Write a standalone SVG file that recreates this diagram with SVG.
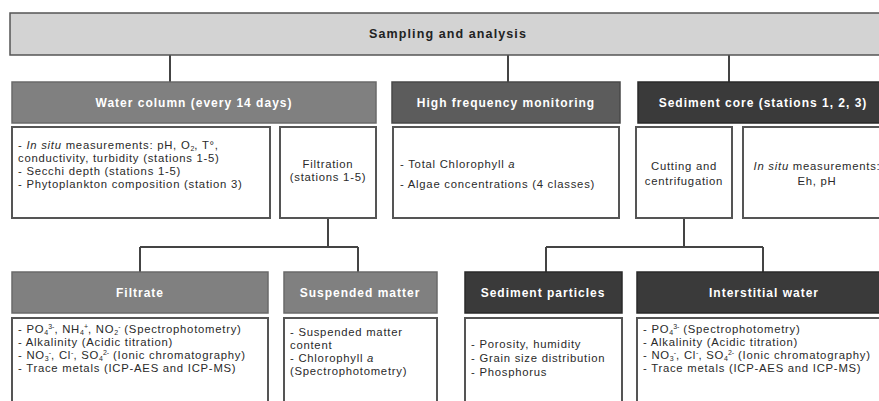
<svg xmlns="http://www.w3.org/2000/svg" width="879" height="401" viewBox="0 0 879 401">
<style>
.top{fill:#d3d3d3;stroke:#555;stroke-width:1.5}
.hd1{fill:#808080;stroke:#6a6a6a;stroke-width:1.5}
.hd2{fill:#5c5c5c;stroke:#484848;stroke-width:1.5}
.hd3{fill:#3a3a3a;stroke:#2a2a2a;stroke-width:1.5}
.box{fill:#fff;stroke:#555;stroke-width:2}
.ht{font-family:"Liberation Sans",Arial,sans-serif;font-weight:bold;font-size:12px;letter-spacing:1px;fill:#fff;text-anchor:middle}
.tt{font-family:"Liberation Sans",Arial,sans-serif;font-weight:bold;font-size:12.5px;letter-spacing:1.1px;fill:#222;text-anchor:middle}
.ct{font-family:"Liberation Sans",Arial,sans-serif;font-size:11.3px;letter-spacing:0.75px;fill:#2a2a2a}
.cm{text-anchor:middle}
.s{font-size:7px;letter-spacing:0}
.con{stroke:#444;stroke-width:2;fill:none}
</style>
<g id="connectors">
<path class="con" d="M170 55V82M508 55V82M729 55V82"/>
<path class="con" d="M328 218V247M140 247H358M140 247V272M358 247V272"/>
<path class="con" d="M684 218V247M546 247H763M546 247V272M763 247V272"/>
</g>
<g id="sampling">
<rect class="top" x="10" y="13" width="880" height="42"/>
<text class="tt" x="448" y="38">Sampling and analysis</text>
</g>
<g id="water-column">
<rect class="hd1" x="12" y="82" width="364" height="41"/>
<text class="ht" x="194" y="107">Water column (every 14 days)</text>
</g>
<g id="high-frequency">
<rect class="hd2" x="392" y="82" width="228" height="41"/>
<text class="ht" x="506" y="107">High frequency monitoring</text>
</g>
<g id="sediment-core">
<rect class="hd3" x="638" y="82" width="250" height="41"/>
<text class="ht" x="763" y="107">Sediment core (stations 1, 2, 3)</text>
</g>
<g id="in-situ-water">
<rect class="box" x="12" y="127" width="258" height="91"/>
<text class="ct" x="18" y="149">- <tspan font-style="italic">In situ</tspan> measurements: pH, O<tspan class="s" dy="2">2</tspan><tspan dy="-2">, T°,</tspan></text>
<text class="ct" x="18" y="162">conductivity, turbidity (stations 1-5)</text>
<text class="ct" x="18" y="175">- Secchi depth (stations 1-5)</text>
<text class="ct" x="18" y="188">- Phytoplankton composition (station 3)</text>
</g>
<g id="filtration">
<rect class="box" x="280" y="127" width="96" height="91"/>
<text class="ct cm" x="328" y="168">Filtration</text>
<text class="ct cm" x="328" y="181">(stations 1-5)</text>
</g>
<g id="hf-content">
<rect class="box" x="393" y="127" width="226" height="91"/>
<text class="ct" x="400" y="168">- Total Chlorophyll <tspan font-style="italic">a</tspan></text>
<text class="ct" x="400" y="188">- Algae concentrations (4 classes)</text>
</g>
<g id="cutting">
<rect class="box" x="636" y="127" width="96" height="91"/>
<text class="ct cm" x="684" y="170">Cutting and</text>
<text class="ct cm" x="684" y="185">centrifugation</text>
</g>
<g id="in-situ-sediment">
<rect class="box" x="743" y="127" width="150" height="91"/>
<text class="ct cm" x="817" y="170"><tspan font-style="italic">In situ</tspan> measurements:</text>
<text class="ct cm" x="817" y="185">Eh, pH</text>
</g>
<g id="filtrate">
<rect class="hd1" x="12" y="272" width="256" height="41"/>
<text class="ht" x="140" y="297">Filtrate</text>
<rect class="box" x="12" y="318" width="256" height="100"/>
<text class="ct" x="18" y="333">- PO<tspan class="s" dy="2">4</tspan><tspan class="s" dy="-6">3-</tspan><tspan dy="4">, NH</tspan><tspan class="s" dy="2">4</tspan><tspan class="s" dy="-6">+</tspan><tspan dy="4">, NO</tspan><tspan class="s" dy="2">2</tspan><tspan class="s" dy="-6">-</tspan><tspan dy="4"> (Spectrophotometry)</tspan></text>
<text class="ct" x="18" y="346">- Alkalinity (Acidic titration)</text>
<text class="ct" x="18" y="359">- NO<tspan class="s" dy="2">3</tspan><tspan class="s" dy="-6">-</tspan><tspan dy="4">, Cl</tspan><tspan class="s" dy="-4">-</tspan><tspan dy="4">, SO</tspan><tspan class="s" dy="2">4</tspan><tspan class="s" dy="-6">2-</tspan><tspan dy="4"> (Ionic chromatography)</tspan></text>
<text class="ct" x="18" y="372">- Trace metals (ICP-AES and ICP-MS)</text>
</g>
<g id="suspended-matter">
<rect class="hd1" x="284" y="272" width="153" height="41"/>
<text class="ht" x="360" y="297">Suspended matter</text>
<rect class="box" x="284" y="318" width="153" height="100"/>
<text class="ct" x="290" y="336">- Suspended matter</text>
<text class="ct" x="290" y="349">content</text>
<text class="ct" x="290" y="362">- Chlorophyll <tspan font-style="italic">a</tspan></text>
<text class="ct" x="290" y="375">(Spectrophotometry)</text>
</g>
<g id="sediment-particles">
<rect class="hd3" x="465" y="272" width="157" height="41"/>
<text class="ht" x="543" y="297">Sediment particles</text>
<rect class="box" x="465" y="318" width="157" height="100"/>
<text class="ct" x="471" y="348">- Porosity, humidity</text>
<text class="ct" x="471" y="362">- Grain size distribution</text>
<text class="ct" x="471" y="376">- Phosphorus</text>
</g>
<g id="interstitial-water">
<rect class="hd3" x="637" y="272" width="256" height="41"/>
<text class="ht" x="764" y="297">Interstitial water</text>
<rect class="box" x="637" y="318" width="256" height="100"/>
<text class="ct" x="643" y="333">- PO<tspan class="s" dy="2">4</tspan><tspan class="s" dy="-6">3-</tspan><tspan dy="4"> (Spectrophotometry)</tspan></text>
<text class="ct" x="643" y="346">- Alkalinity (Acidic titration)</text>
<text class="ct" x="643" y="359">- NO<tspan class="s" dy="2">3</tspan><tspan class="s" dy="-6">-</tspan><tspan dy="4">, Cl</tspan><tspan class="s" dy="-4">-</tspan><tspan dy="4">, SO</tspan><tspan class="s" dy="2">4</tspan><tspan class="s" dy="-6">2-</tspan><tspan dy="4"> (Ionic chromatography)</tspan></text>
<text class="ct" x="643" y="372">- Trace metals (ICP-AES and ICP-MS)</text>
</g>
</svg>
